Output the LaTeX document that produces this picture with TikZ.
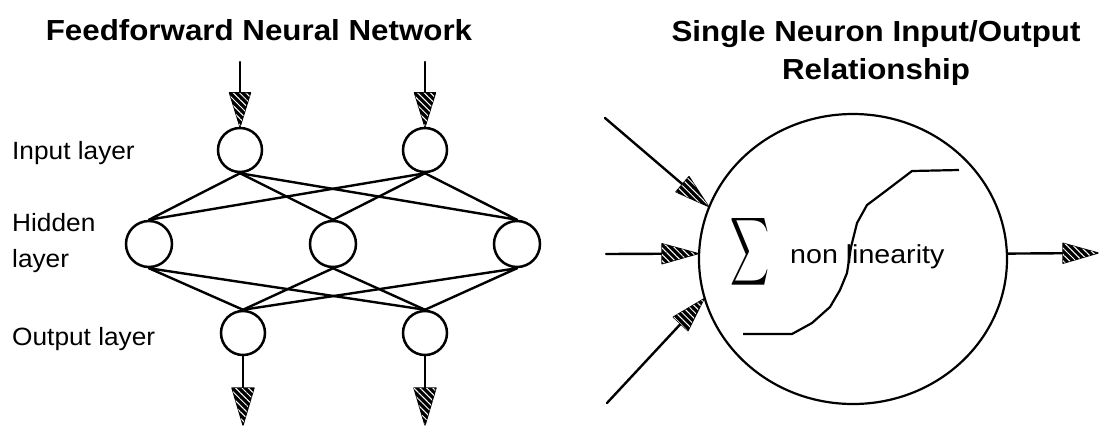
\documentclass[tikz,border=0pt]{standalone}
\usepackage{fontspec}
\setmainfont{Liberation Sans}
\usetikzlibrary{calc,shapes.geometric,patterns.meta}

% hatched arrowhead: tip at #2, line coming from #1, head length #3, half width #4
\newcommand\hatcharrow[4]{%
  \coordinate (hb) at ($(#2)!#3!(#1)$);
  \draw[link] (#1) -- (hb);
  \filldraw[hatchhead] (#2) -- ($(hb)!#4!90:(#2)$) -- ($(hb)!#4!-90:(#2)$) -- cycle;
}
% the lettering is set a little wider than the font's natural width
\newcommand\widetext[2]{\scalebox{#1}[1]{#2}}

\tikzset{
  unit/.style={circle, draw, line width=2.5bp, minimum size=44bp, inner sep=0pt},
  hunit/.style={unit, minimum size=46bp},
  link/.style={line width=2.4bp, line cap=round},
  hatchhead/.style={draw, line width=1.3bp, line join=round, fill=black,
    postaction={pattern={Lines[angle=-45,distance=4.5bp,line width=1bp]}, pattern color=white}},
  lbl/.style={anchor=base west, inner sep=0pt, font=\fontsize{25bp}{29bp}\selectfont},
  ttl/.style={anchor=base, inner sep=0pt, font=\fontsize{29bp}{34bp}\selectfont\bfseries},
  neuron/.style={ellipse, draw, line width=2.2bp, minimum width=308bp, minimum height=290bp, inner sep=0pt},
  curve/.style={line width=2.2bp, line join=round},
}

\begin{document}
\begin{tikzpicture}[x=1bp, y=-1bp]
\useasboundingbox (0,0) rectangle (1117,426);

% ---------- feedforward network ----------
\node[ttl] (t1) at (259,40) {\widetext{1.08}{Feedforward Neural Network}};

\node[lbl] (lin)  at (12,159) {\widetext{1.05}{Input layer}};
\node[lbl] (lhid) at (12,231) {\widetext{1.05}{Hidden}};
\node[lbl] (lhl)  at (12,267) {\widetext{1.05}{layer}};
\node[lbl] (lout) at (12,345) {\widetext{1.05}{Output layer}};

\node[unit] (i1) at (240,150) {};
\node[unit] (i2) at (425,150) {};
\node[hunit] (h1) at (149,244) {};
\node[hunit] (h2) at (333,244) {};
\node[hunit] (h3) at (517,244) {};
\node[unit] (o1) at (243,333) {};
\node[unit] (o2) at (425,333) {};

\foreach \i in {i1,i2}
  \foreach \h in {h1,h2,h3}
    \draw[link] (\i.south) -- (\h.north);
\foreach \h in {h1,h2,h3}
  \foreach \o in {o1,o2}
    \draw[link] (\h.south) -- (\o.north);

\coordinate (a1) at (240,62);
\coordinate (a2) at (425,62);
\coordinate (b1) at (243,425);
\coordinate (b2) at (425,425);
\hatcharrow{a1}{i1.north}{34bp}{10.5bp}
\hatcharrow{a2}{i2.north}{34bp}{10.5bp}
\hatcharrow{o1.south}{b1}{37bp}{11bp}
\hatcharrow{o2.south}{b2}{37bp}{11bp}

% ---------- single neuron ----------
\node[ttl] (t2a) at (876,41) {\widetext{1.08}{Single Neuron Input/Output}};
\node[ttl] (t2b) at (876,79) {\widetext{1.08}{Relationship}};

\node[neuron] (n) at (853,259) {};

\node[inner sep=0pt] (sig) at (750,252) {\resizebox{39bp}{50bp}{$\displaystyle\sum$}};
\node[anchor=base west, inner sep=0pt, font=\fontsize{26bp}{30bp}\selectfont] (nl) at (790,263) {\widetext{1.1}{non linearity}};

\draw[curve] (743,334) -- (792,334) -- (812,323) -- (830,307) -- (840,290) -- (847,273)
  -- (851,247) -- (857,223) -- (867,205) -- (887,190) -- (912,171) -- (959,170);

\coordinate (s1) at (605,118);
\coordinate (s2) at (606,254);
\coordinate (s3) at (607,403);
\coordinate (q)  at (1098,253);
\hatcharrow{s1}{n.160}{34bp}{10bp}
\hatcharrow{s2}{n.178}{36bp}{10bp}
\hatcharrow{s3}{n.195}{34bp}{10bp}
\hatcharrow{n.2}{q}{35bp}{10bp}
\end{tikzpicture}
\end{document}
